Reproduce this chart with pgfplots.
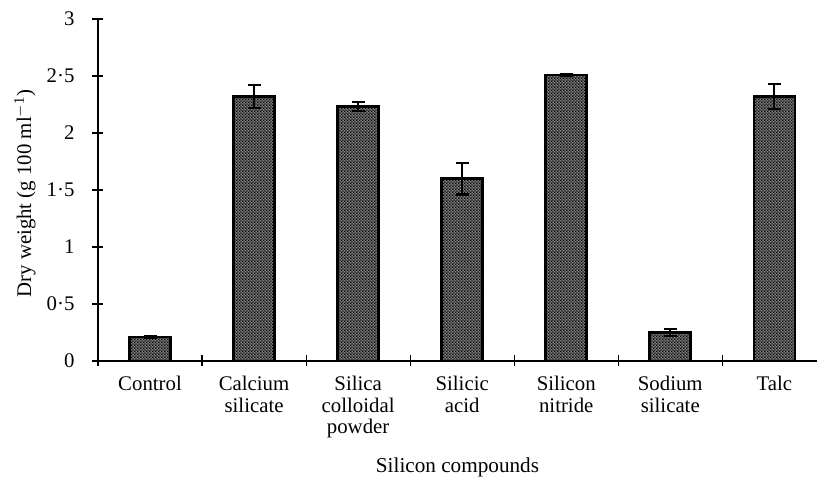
\documentclass[border=0pt]{standalone}
\usepackage{fontspec}
\setmainfont{Liberation Serif}
\usepackage{pgfplots}
\pgfplotsset{compat=1.18}
\usetikzlibrary{patterns.meta}
\tikzdeclarepattern{
  name=finecheck,
  type=uncolored,
  bounding box={(0,0) and (1.4pt,1.4pt)},
  tile size={(1.4pt,1.4pt)},
  code={\fill (0,0) rectangle (0.7pt,0.7pt); \fill (0.7pt,0.7pt) rectangle (1.4pt,1.4pt);}
}
\begin{document}
\begin{tikzpicture}
\begin{axis}[
  scale only axis,
  width=359.5pt, height=171pt,
  xmin=-0.5, xmax=6.41,
  ymin=0, ymax=3,
  axis x line=bottom, axis y line=left,
  axis line style={-, line width=0.6pt},
  clip=false,
  tick align=center,
  tick style={black, line width=0.6pt},
  major tick length=5.5pt,
  xtick={-0.5,0.5,1.5,2.5,3.5,4.5,5.5},
  xticklabels={},
  extra x ticks={0,1,2,3,4,5,6},
  extra x tick labels={Control,Calcium\\silicate,Silica\\colloidal\\powder,Silicic\\acid,Silicon\\nitride,Sodium\\silicate,Talc},
  extra x tick style={major tick length=0pt, tick style={draw=none},
     ticklabel style={align=center, anchor=north, yshift=-4pt, font=\fontsize{10.4}{10.8}\selectfont}},
  ytick={0,0.5,1,1.5,2,2.5,3},
  yticklabels={0,0{\textperiodcentered}5,1,1{\textperiodcentered}5,2,2{\textperiodcentered}5,3},
  yticklabel style={font=\fontsize{10.4}{12}\selectfont, xshift=-5.5pt},
  ylabel={Dry weight (g 100 ml\textsuperscript{$-$1})},
  ylabel style={at={(axis description cs:0,0.49)}, anchor=center, yshift=36.5pt, font=\fontsize{10.4}{12}\selectfont},
  xlabel={Silicon compounds},
  xlabel style={at={(axis description cs:0.5,0)}, anchor=center, yshift=-53pt, font=\fontsize{10.6}{12}\selectfont},
]
\addplot[ybar, bar width=20.5pt, draw=black, line width=1.3pt,
  fill=black!50, postaction={pattern={finecheck}, pattern color=black},
  error bars/.cd, y dir=both, y explicit,
  error bar style={line width=1.1pt, black},
  error mark options={rotate=90, mark size=3.25pt, line width=1.1pt, black}]
coordinates {
  (0,0.21) +- (0,0.01)
  (1,2.32) +- (0,0.10)
  (2,2.23) +- (0,0.04)
  (3,1.60) +- (0,0.14)
  (4,2.51) +- (0,0.01)
  (5,0.25) +- (0,0.03)
  (6,2.32) +- (0,0.11)
};
\end{axis}
\pgfresetboundingbox
\path (current axis.south west) ++(-49pt,-58.5pt) coordinate (bl);
\path (current axis.north east) ++(0pt,9.5pt) coordinate (tr);
\path[use as bounding box] (bl) rectangle (tr);
\end{tikzpicture}
\end{document}
